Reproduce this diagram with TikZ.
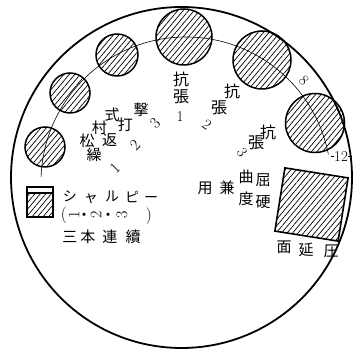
\documentclass[tikz,border=0pt]{standalone}
\usepackage{fontspec}
\usetikzlibrary{patterns.meta}
\newfontfamily\jp{Noto Sans CJK JP}
\tikzset{every node/.style={inner sep=0pt},
 hatch/.style={pattern={Lines[angle=50,distance=4.2pt,line width=.7pt]}},
 spot/.style={circle,draw,line width=1.5pt,hatch},
 kanji/.style={font=\jp\fontsize{#1}{#1}\selectfont,text height={.8*#1pt},text depth={.06*#1pt}},
 kanji/.default=15,
 numeral/.style={font=\fontsize{#1}{#1}\selectfont},numeral/.default=15}

\begin{document}
\begin{tikzpicture}[x=1pt,y=1pt]
\useasboundingbox (0,0) rectangle (357,353);
\draw[line width=1.8pt] (181.5,175.5) circle[radius=170.5pt];
\coordinate (arcO) at (186,171);
\draw[line width=.6pt] (arcO) ++(178:145pt) arc[start angle=178,end angle=11,radius=145pt];
\foreach \n/\x/\y/\d in {1/45/147/40,2/70/93/40,3/117/55/42,4/184/37/56,
 5/262/60/58,6/315/123/59}
 {\node[spot,minimum size=\d pt] (c\n) at (\x,353-\y) {};}
% right square
\node[draw,line width=1.6pt,hatch,rotate=-9,minimum size=64pt] (sq) at (311.5,353-204.5) {};
% left square
\fill[hatch] (27,136) rectangle (53,160);
\node[draw,line width=1.4pt,minimum width=26pt,minimum height=30pt] (chp) at (40,151) {};
\draw[line width=1.2pt] (27,160) -- (53,160);
% Matsumura
\foreach \ch/\x/\y [count=\i] in {松/87/141,村/99.5/128,式/112/115,
 繰/94/155,返/109.7/140,打/125.3/125,撃/141/110}
 {\node[kanji] (mk\i) at (\x,353-\y) {\ch};}
\foreach \k/\x/\y in {1/115/168,2/135/145,3/155/123}
 {\node[numeral=16,rotate=45] (m\k) at (\x,353-\y) {\k};}
% tension
\foreach \ch/\x/\y [count=\i] in {抗/181/80,張/181/97,抗/232/92,張/219/108,
 抗/268/133,張/256/143}
 {\node[kanji=16] (kt\i) at (\x,353-\y) {\ch};}
\node[numeral] (t1) at (180,353-117) {1};
\node[numeral,rotate=-38] (t2) at (207,353-125) {2};
\node[numeral,rotate=-55] (t3) at (242,353-153) {3};
\node[numeral,rotate=-45] (eight) at (304,353-81) {8};
\node[numeral] (twelve) at (341,353-157) {12};
\draw[line width=1pt] (twelve.east) -- ++(4,0);
\draw[line width=1pt] (twelve.west) -- ++(-3,0);
% hardness square
\foreach \ch/\x/\y [count=\i] in {硬/263/202,度/246/199,屈/263/180,曲/246/177,
 兼/227/188,用/205/188,圧/331/251,延/306/250,面/284/247}
 {\node[kanji] (hd\i) at (\x,353-\y) {\ch};}
% Charpy
\foreach \ch/\x/\y [count=\i] in {シ/70/196,ャ/91/197,ル/112/196,ピ/132/197,ー/151/197}
 {\node[kanji=14] (ch\i) at (\x,353-\y) {\ch};}
\foreach \ch/\x/\y [count=\i] in {・/84/215,・/108/215,三/70/237,本/88/237,連/110/237,續/133/237}
 {\node[kanji] (cs\i) at (\x,353-\y) {\ch};}
\node[numeral=17] (pl) at (64,353-215) {(};
\node[numeral=17] (pr) at (149,353-216) {)};
\foreach \k/\x in {1/74,2/96,3/122}
 {\node[numeral=16,rotate=90] (cn\k) at (\x,353-215) {\k};}
\end{tikzpicture}
\end{document}
